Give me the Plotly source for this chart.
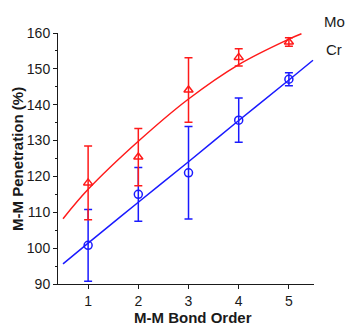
import plotly.graph_objects as go

bond_order = [1, 2, 3, 4, 5]
mo_values = [118.2, 125.4, 144.1, 153.2, 157.5]
mo_errors = [10.3, 8.0, 9.0, 2.4, 1.2]
cr_values = [100.8, 115.0, 121.0, 135.7, 147.1]
cr_errors = [10.0, 7.5, 12.9, 6.2, 1.8]

mo_fit_x = [0.5, 1, 2, 3, 4, 5, 5.25]
mo_fit_y = [108.2, 116.4, 129.8, 141.6, 151.2, 158.3, 159.8]
cr_fit_x = [0.5, 1, 2, 3, 4, 5, 5.48]
cr_fit_y = [95.6, 101.4, 112.8, 124.1, 135.6, 146.9, 152.4]

y_ticks = [90, 100, 110, 120, 130, 140, 150, 160]
x_ticks = [1, 2, 3, 4, 5]

RED = "#ff1a1a"
BLUE = "#1a1aff"
INK = "#1a1a1a"
FONT = "Liberation Sans, Arial, sans-serif"

W, H = 345, 325
L, T, R, B = 58, 33, 31, 41
pw, ph = W - L - R, H - T - B


def px(x):
    return (x - L) / pw


def py(y):
    return 1 - (y - T) / ph


fig = go.Figure()
fig.add_trace(go.Scatter(x=cr_fit_x, y=cr_fit_y, mode="lines",
                         line=dict(color=BLUE, width=1.5, shape="spline"), showlegend=False))
fig.add_trace(go.Scatter(x=mo_fit_x, y=mo_fit_y, mode="lines",
                         line=dict(color=RED, width=1.5, shape="spline"), showlegend=False))
fig.add_trace(go.Scatter(
    x=bond_order, y=cr_values, mode="markers",
    marker=dict(symbol="circle-open", size=8, color=BLUE, line=dict(width=1.5, color=BLUE)),
    error_y=dict(type="data", array=cr_errors, visible=True, color=BLUE, thickness=1.5, width=4),
    showlegend=False))
fig.add_trace(go.Scatter(
    x=bond_order, y=mo_values, mode="markers",
    marker=dict(symbol="triangle-up-open", size=8, color=RED, line=dict(width=1.5, color=RED)),
    error_y=dict(type="data", array=mo_errors, visible=True, color=RED, thickness=1.5, width=4),
    showlegend=False))

fig.update_layout(
    width=W, height=H,
    margin=dict(l=L, r=R, t=T, b=B, pad=0),
    paper_bgcolor="white", plot_bgcolor="white",
    font=dict(family=FONT, size=14, color=INK),
    xaxis=dict(range=[0.4, 5.5], tickvals=x_ticks, ticks="outside", ticklen=4, tickwidth=1,
               tickcolor=INK, showline=True, linecolor=INK, linewidth=1, showgrid=False,
               zeroline=False, tickfont=dict(size=14)),
    yaxis=dict(range=[90, 160], tickvals=y_ticks, ticks="outside", ticklen=4, tickwidth=1,
               tickcolor=INK, showline=True, linecolor=INK, linewidth=1, showgrid=False,
               zeroline=False, tickfont=dict(size=14),
               minor=dict(dtick=5, ticks="outside", ticklen=2, tickcolor=INK, showgrid=False)),
    annotations=[
        dict(text="<b>M-M Bond Order</b>", x=px(193), y=py(317), xref="paper", yref="paper",
             showarrow=False, xanchor="center", yanchor="middle", font=dict(size=15)),
        dict(text="<b>M-M Penetration (%)</b>", x=px(17), y=py(159), xref="paper", yref="paper",
             showarrow=False, xanchor="center", yanchor="middle", textangle=-90, font=dict(size=15)),
        dict(text="Mo", x=px(322), y=py(21), xref="paper", yref="paper", showarrow=False,
             xanchor="left", yanchor="middle", font=dict(size=15)),
        dict(text="Cr", x=px(324), y=py(50), xref="paper", yref="paper", showarrow=False,
             xanchor="left", yanchor="middle", font=dict(size=15)),
    ],
)

fig.write_html(
    "out.html",
    config={"displayModeBar": False},
    post_script="document.body.style.margin='0';document.documentElement.style.overflow='hidden';",
)
